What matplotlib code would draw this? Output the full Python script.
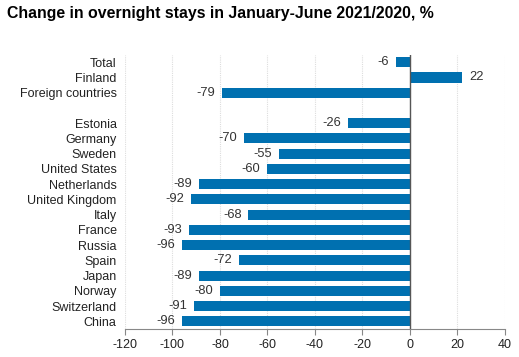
import matplotlib
matplotlib.use("Agg")
import matplotlib.pyplot as plt

categories = ["Total", "Finland", "Foreign countries", "", "Estonia", "Germany", "Sweden",
              "United States", "Netherlands", "United Kingdom", "Italy", "France", "Russia",
              "Spain", "Japan", "Norway", "Switzerland", "China"]
values = [-6, 22, -79, None, -26, -70, -55, -60, -89, -92, -68, -93, -96, -72, -89, -80, -91, -96]
xticks = [-120, -100, -80, -60, -40, -20, 0, 20, 40]

plt.rcParams['font.family'] = ['Liberation Sans', 'DejaVu Sans']
fig = plt.figure(figsize=(5.19, 3.57), dpi=100)
ax = fig.add_axes([0.2408, 0.0784, 0.7322, 0.7686])

color = "#0070b0"
for i, (c, v) in enumerate(zip(categories, values)):
    if v is None:
        continue
    ax.barh(i, v, height=0.66, color=color, zorder=3)
    off = 5
    if v < 0:
        ax.annotate(str(v), (v, i), xytext=(-off, 0), textcoords="offset points",
                    ha="right", va="center", fontsize=9.3, color="#333333")
    else:
        ax.annotate(str(v), (v, i), xytext=(off, 0), textcoords="offset points",
                    ha="left", va="center", fontsize=9.3, color="#333333")

ax.set_xlim(-120, 40)
ax.set_ylim(len(categories) - 0.5, -0.5)
ax.set_yticks(range(len(categories)))
ax.set_yticklabels(categories, fontsize=9, color="#222222")
ax.tick_params(axis='y', length=0, pad=6)
ax.set_xticks(xticks)
ax.set_xticklabels([str(t) for t in xticks], fontsize=9, color="#222222")
ax.tick_params(axis='x', length=4, color="#888888", pad=3)
ax.grid(axis='x', color="#dddddd", linewidth=0.8, linestyle=(0, (1, 1)), zorder=0)
for s in ["top", "right", "left"]:
    ax.spines[s].set_visible(False)
ax.spines["bottom"].set_color("#888888")
ax.axvline(0, color="#555555", linewidth=1.0, zorder=4)

fig.text(0.0135, 0.963, "Change in overnight stays in January-June 2021/2020, %",
         fontsize=11.4, fontweight="bold", ha="left", va="center")
fig.savefig("out.png", dpi=100)
